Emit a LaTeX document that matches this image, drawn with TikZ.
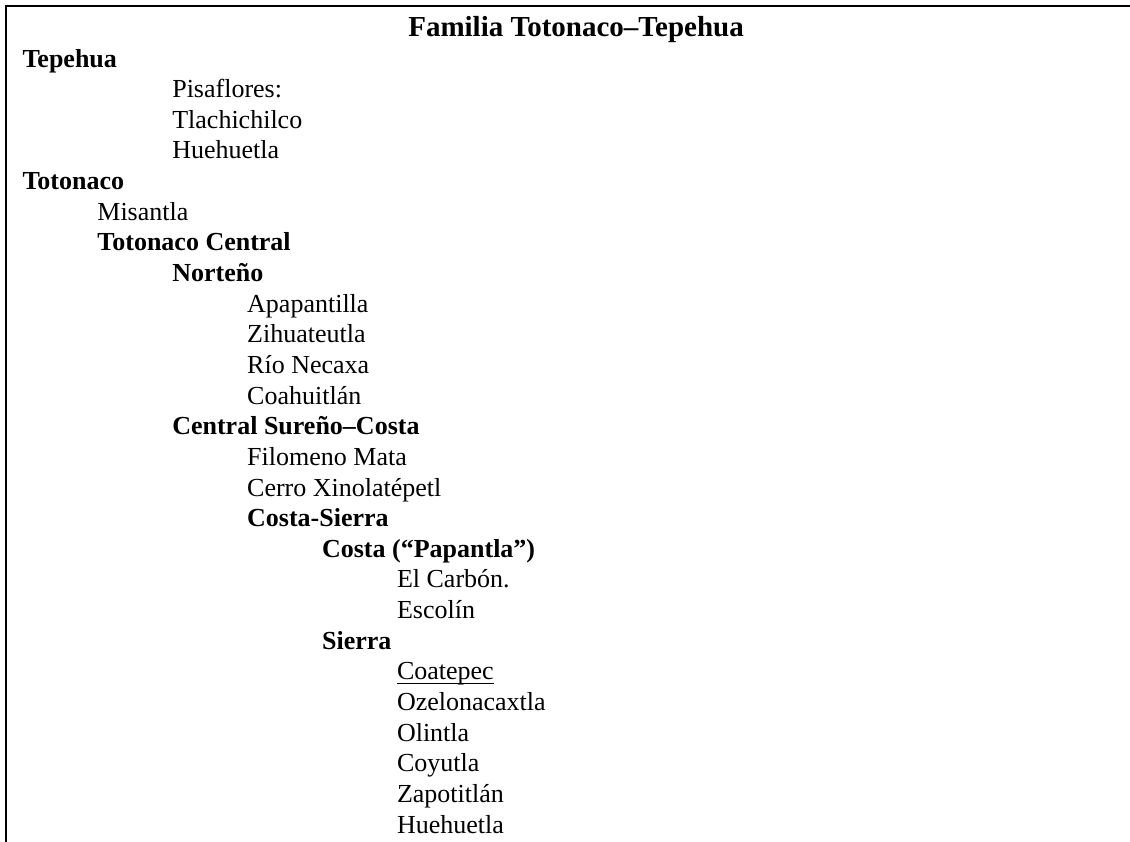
\documentclass[tikz,border=0pt]{standalone}
\usepackage{fontspec}
\setmainfont{Liberation Serif}
\newcommand\myul[1]{\setbox0\hbox{#1}\makebox[0pt][l]{\rule[-4.5pt]{\wd0}{1.4pt}}\box0}
\begin{document}
\begin{tikzpicture}[x=1pt,y=-1pt,
  lab/.style={anchor=base west, inner sep=0pt, outer sep=0pt, font=\fontsize{26}{30}\selectfont},
  hd/.style={lab, font=\fontsize{26}{30}\selectfont\bfseries},
  ttl/.style={anchor=base, inner sep=0pt, outer sep=0pt, font=\fontsize{29}{33}\selectfont\bfseries},
  frame/.style={line width=2.4pt, line cap=rect}]
\useasboundingbox (0,0) rectangle (1130,841);
\draw[frame] (6,841) -- (6,6) -- (1130,6);
\node[ttl] (title) at (576,36) {Familia Totonaco–Tepehua};
\node[hd]  (tepehua)   at (22.5,67.0)  {Tepehua};
\node[lab] (pisaf)     at (172.3,97.6) {Pisaflores:};
\node[lab] (tlach)     at (172.3,128.3) {Tlachichilco};
\node[lab] (hueh1)     at (172.3,158.9) {Huehuetla};
\node[hd]  (totonaco)  at (22.5,189.6) {Totonaco};
\node[lab] (misantla)  at (97.4,220.2) {Misantla};
\node[hd]  (totcen)    at (97.4,250.8) {Totonaco Central};
\node[hd]  (norteno)   at (172.3,281.5) {Norteño};
\node[lab] (apap)      at (247.2,312.1) {Apapantilla};
\node[lab] (zihua)     at (247.2,342.8) {Zihuateutla};
\node[lab] (rio)       at (247.2,373.4) {Río Necaxa};
\node[lab] (coah)      at (247.2,404.0) {Coahuitlán};
\node[hd]  (censur)    at (172.3,434.7) {Central Sureño–Costa};
\node[lab] (filo)      at (247.2,465.3) {Filomeno Mata};
\node[lab] (cerro)     at (247.2,496.0) {Cerro Xinolatépetl};
\node[hd]  (costasi)   at (247.2,526.6) {Costa-Sierra};
\node[hd]  (costa)     at (322.1,557.2) {Costa (“Papantla”)};
\node[lab] (carbon)    at (397.0,587.9) {El Carbón.};
\node[lab] (escolin)   at (397.0,618.5) {Escolín};
\node[hd]  (sierra)    at (322.1,649.2) {Sierra};
\node[lab] (coatepec)  at (397.0,679.8) {\myul{Coatepec}};
\node[lab] (ozelo)     at (397.0,710.4) {Ozelonacaxtla};
\node[lab] (olintla)   at (397.0,741.1) {Olintla};
\node[lab] (coyutla)   at (397.0,771.7) {Coyutla};
\node[lab] (zapot)     at (397.0,802.4) {Zapotitlán};
\node[lab] (hueh2)     at (397.0,833.0) {Huehuetla};
\end{tikzpicture}
\end{document}
